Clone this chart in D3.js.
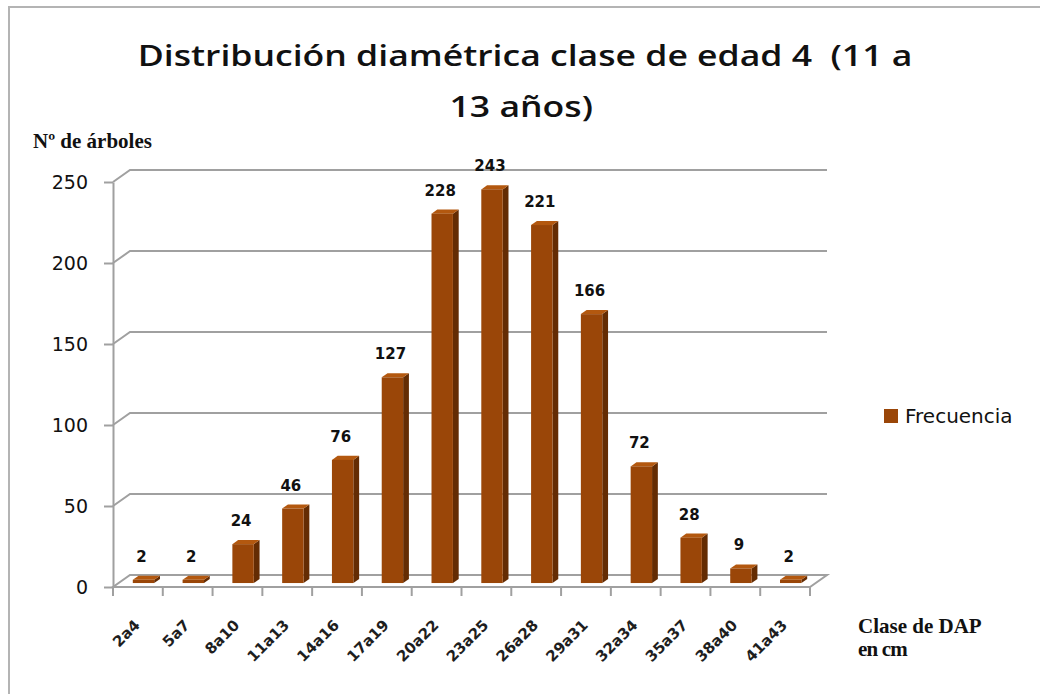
<!DOCTYPE html>
<html>
<head>
<meta charset="utf-8">
<script src="https://cdn.jsdelivr.net/npm/d3@7"></script>
<style>
  body { margin: 0; background: #fff; }
  svg { display: block; }
</style>
</head>
<body>
<svg width="1040" height="694"></svg>
<script>
// datos
var clases = ["2a4", "5a7", "8a10", "11a13", "14a16", "17a19", "20a22", "23a25", "26a28", "29a31", "32a34", "35a37", "38a40", "41a43"];
var frecuencia = [2, 2, 24, 46, 76, 127, 228, 243, 221, 166, 72, 28, 9, 2];
var yTicks = [0, 50, 100, 150, 200, 250];
var tituloLineas = ["Distribución diamétrica clase de edad 4  (11 a", "13 años)"];
var serieNombre = "Frecuencia";

var svg = d3.select("svg");

// marco exterior
svg.append("rect")
    .attr("x", 9).attr("y", 7)
    .attr("width", 1050).attr("height", 700)
    .attr("fill", "#fff")
    .attr("stroke", "#b4b4b4")
    .attr("stroke-width", 2);

var x = d3.scaleBand().domain(clases).range([113, 810]).padding(0);
var y = d3.scaleLinear().domain([0, 250]).range([587, 182]);

// profundidad 3D
var dx = 17, dy = -12;
var gridColor = "#a0a0a0";

var grid = svg.append("g");
// lineas de la pared del fondo + diagonales de la pared izquierda
yTicks.forEach(function(t){
    if (t == 0) return;
    grid.append("path")
        .attr("d", "M113," + y(t) + "L" + (113 + dx) + "," + (y(t) + dy) + "L" + (810 + dx) + "," + (y(t) + dy))
        .attr("fill", "none")
        .attr("stroke", gridColor)
        .attr("stroke-width", 2);
});
// piso
grid.append("path")
    .attr("d", "M113," + y(0) + "L810," + y(0) + "L" + (810 + dx) + "," + (y(0) + dy) +
          "L" + (113 + dx) + "," + (y(0) + dy) + "Z")
    .attr("fill", "none")
    .attr("stroke", gridColor)
    .attr("stroke-width", 2);

// eje Y
var yAxis = svg.append("g")
    .attr("transform", "translate(113,0)")
    .call(d3.axisLeft(y).tickValues(yTicks).tickSize(9).tickSizeOuter(0).tickPadding(16));
yAxis.select(".domain").attr("stroke", gridColor).attr("stroke-width", 2);
yAxis.selectAll(".tick line").attr("stroke", gridColor).attr("stroke-width", 2);
yAxis.selectAll(".tick text")
    .attr("fill", "#111")
    .style("font-family", "'DejaVu Sans', sans-serif")
    .style("font-size", "19px");

// marcas de categoria
svg.append("g").selectAll("line")
    .data(clases.concat(["fin"]))
    .enter().append("line")
    .attr("x1", function(d, i){ return i < clases.length ? x(d) : x.range()[1]; })
    .attr("x2", function(d, i){ return i < clases.length ? x(d) : x.range()[1]; })
    .attr("y1", y(0)).attr("y2", y(0) + 9)
    .attr("stroke", gridColor)
    .attr("stroke-width", 2);

// etiquetas de categoria
svg.append("g").selectAll("text")
    .data(clases)
    .enter().append("text")
    .attr("transform", function(d){
        return "translate(" + (x(d) + x.bandwidth() / 2 + 3) + ",626) rotate(-45)";
    })
    .attr("text-anchor", "end")
    .attr("fill", "#1e1e1e")
    .style("font-family", "'DejaVu Sans', sans-serif")
    .style("font-weight", "bold")
    .style("font-size", "15px")
    .text(function(d){ return d; });

// barras 3D
var barW = x.bandwidth() * 0.43;
var f0 = 0.33, f1 = 0.67;
var frontCol = "#9a4608", sideCol = "#642c03", topCol = "#b3580f";

var bars = svg.append("g").selectAll("g")
    .data(frecuencia)
    .enter().append("g")
    .attr("transform", function(d, i){
        var c = x(clases[i]) + x.bandwidth() / 2;
        return "translate(" + (c - barW / 2 + f0 * dx) + "," + (f0 * dy) + ")";
    });

var ddx = (f1 - f0) * dx, ddy = (f1 - f0) * dy;
bars.append("path") // lado
    .attr("d", function(d){
        return "M" + barW + "," + y(0) + "L" + (barW + ddx) + "," + (y(0) + ddy) +
               "L" + (barW + ddx) + "," + (y(d) + ddy) + "L" + barW + "," + y(d) + "Z";
    })
    .attr("fill", sideCol);
bars.append("path") // tapa
    .attr("d", function(d){
        return "M0," + y(d) + "L" + barW + "," + y(d) + "L" + (barW + ddx) + "," + (y(d) + ddy) +
               "L" + ddx + "," + (y(d) + ddy) + "Z";
    })
    .attr("fill", topCol);
bars.append("rect") // frente
    .attr("x", 0)
    .attr("y", function(d){ return y(d); })
    .attr("width", barW)
    .attr("height", function(d){ return y(0) - y(d); })
    .attr("fill", frontCol);

// valores
bars.append("text")
    .attr("x", barW / 2 - 2)
    .attr("y", function(d){ return y(d) - 18; })
    .attr("text-anchor", "middle")
    .attr("fill", "#111")
    .style("font-family", "'DejaVu Sans', sans-serif")
    .style("font-weight", "bold")
    .style("font-size", "15px")
    .text(function(d){ return d; });

// titulo (la imagen original esta estirada en horizontal)
svg.append("g")
    .attr("transform", "translate(525,0) scale(1.27,1)")
    .selectAll("text")
    .data(tituloLineas)
    .enter().append("text")
    .attr("x", function(d, i){ return i == 0 ? 0 : -3; })
    .attr("y", function(d, i){ return 66 + i * 51; })
    .attr("text-anchor", "middle")
    .attr("fill", "#111")
    .style("white-space", "pre")
    .style("font-family", "'Open Sans', sans-serif")
    .style("font-weight", "600")
    .style("font-size", "28px")
    .text(function(d){ return d; });

// titulos de ejes
var serif = "'Liberation Serif', serif";
svg.append("text")
    .attr("x", 33).attr("y", 148)
    .attr("fill", "#111")
    .style("font-family", serif).style("font-weight", "bold").style("font-size", "21px")
    .text("Nº de árboles");
svg.append("text")
    .attr("x", 858).attr("y", 633)
    .attr("fill", "#111")
    .style("font-family", serif).style("font-weight", "bold").style("font-size", "21px")
    .text("Clase de DAP");
svg.append("text")
    .attr("x", 858).attr("y", 656)
    .attr("fill", "#111")
    .style("font-family", serif).style("font-weight", "bold").style("font-size", "21px")
    .style("letter-spacing", "-0.8px")
    .text("en cm");

// leyenda
svg.append("rect")
    .attr("x", 884).attr("y", 409)
    .attr("width", 14).attr("height", 14)
    .attr("fill", frontCol);
svg.append("text")
    .attr("x", 905).attr("y", 423)
    .attr("fill", "#111")
    .style("font-family", "'DejaVu Sans', sans-serif")
    .style("font-size", "20px")
    .text(serieNombre);
</script>
</body>
</html>
